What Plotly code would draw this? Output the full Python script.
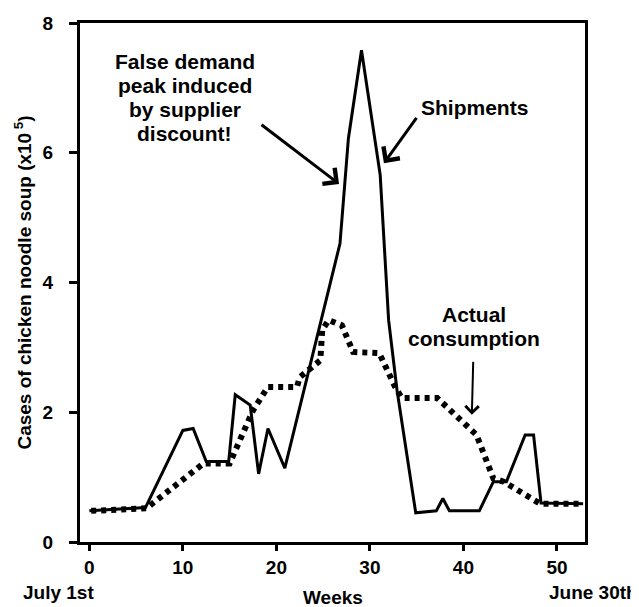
import plotly.graph_objects as go

# shipments (solid)
ship_weeks = [0, 6, 10, 11.1, 12.5, 14.9, 15.6, 17.2, 18.1, 19.1, 20.9,
              26.8, 27.7, 29.1, 31.1, 31.7, 32.0, 32.9, 34.9, 37.1, 37.8,
              38.5, 41.7, 43.2, 44.6, 46.6, 47.5, 48.3, 52.8]
ship_cases = [0.48, 0.53, 1.72, 1.75, 1.24, 1.24, 2.27, 2.11, 1.05, 1.75, 1.14,
              4.6, 6.22, 7.58, 5.66, 4.04, 3.42, 2.34, 0.45, 0.48, 0.67,
              0.48, 0.48, 0.93, 0.93, 1.65, 1.65, 0.6, 0.59]

# actual consumption (dotted)
cons_weeks = [0.2, 6.1, 12.2, 15.0, 17.5, 19.1, 22.2, 22.5, 24.7, 24.9, 25.6,
              27.0, 28.2, 31.0, 32.7, 33.4, 37.2, 40.1, 41.4, 43.2, 44.3,
              48.2, 52.8]
cons_cases = [0.48, 0.52, 1.21, 1.21, 2.03, 2.39, 2.39, 2.54, 2.8, 3.27, 3.42,
              3.34, 2.93, 2.91, 2.39, 2.22, 2.22, 1.82, 1.65, 0.98, 0.93,
              0.59, 0.59]

x_ticks = [0, 10, 20, 30, 40, 50]
y_ticks = [0, 2, 4, 6, 8]

fnt = "Arial, Liberation Sans, sans-serif"

fig = go.Figure()
fig.add_trace(go.Scatter(x=cons_weeks, y=cons_cases, mode="lines",
                         line=dict(color="black", width=6, dash="5px,5px"),
                         name="Actual consumption"))
fig.add_trace(go.Scatter(x=ship_weeks, y=ship_cases, mode="lines",
                         line=dict(color="black", width=3),
                         name="Shipments"))

# text labels, one line each (the original has tight line spacing)
labels = [
    ("False demand", 10.2, 7.40),
    ("peak induced", 10.2, 7.03),
    ("by supplier", 10.2, 6.67),
    ("discount!", 10.2, 6.30),
    ("Shipments", 41.2, 6.70),
    ("Actual", 41.1, 3.51),
    ("consumption", 41.1, 3.13),
]
for txt, x, y in labels:
    fig.add_annotation(x=x, y=y, text=txt, showarrow=False,
                       font=dict(family=fnt, size=21, color="black", weight="bold"))

# arrows (tail -> tip)
arrows = [
    (18.25, 6.45, 26.7, 5.52, 3),
    (35.1, 6.56, 31.5, 5.84, 3),
    (41.05, 2.8, 40.9, 1.96, 2),
]
for ax, ay, x, y, w in arrows:
    fig.add_annotation(x=x, y=y, ax=ax, ay=ay, axref="x", ayref="y",
                       text="", showarrow=True, arrowhead=4, arrowsize=1.3,
                       arrowwidth=w, arrowcolor="black")

bottom_font = dict(family=fnt, size=19, color="black", weight="bold")
fig.add_annotation(x=0, y=-0.098, xref="paper", yref="paper", xanchor="center",
                   yanchor="middle", text="July 1st", showarrow=False, xshift=-22,
                   font=bottom_font)
fig.add_annotation(x=0.5, y=-0.106, xref="paper", yref="paper", xanchor="center",
                   yanchor="middle", text="Weeks", showarrow=False, xshift=0,
                   font=bottom_font)
fig.add_annotation(x=1, y=-0.098, xref="paper", yref="paper", xanchor="center",
                   yanchor="middle", text="June 30th", showarrow=False, xshift=8,
                   font=bottom_font)

# page body has an 8px margin, so the figure is shrunk and shifted to fit
fig.update_layout(
    width=631, height=599,
    margin=dict(l=72, r=54, t=15, b=65),
    plot_bgcolor="white", paper_bgcolor="white",
    showlegend=False,
    font=dict(family=fnt, size=19, color="black", weight="bold"),
)
fig.update_xaxes(range=[-1, 53], tickvals=x_ticks, showgrid=False, zeroline=False,
                 showline=True, linecolor="black", linewidth=3, mirror=True,
                 ticks="outside", ticklen=6, tickwidth=3, tickcolor="black",
                 automargin=False)
fig.update_yaxes(range=[0, 8], tickvals=y_ticks, showgrid=False, zeroline=False,
                 showline=True, linecolor="black", linewidth=3, mirror=True,
                 ticks="outside", ticklen=8, tickwidth=3, tickcolor="black",
                 ticklabelstandoff=12, automargin=False,
                 title=dict(text="Cases of chicken noodle soup (x10<sup> 5</sup>)", standoff=6,
                            font=dict(family=fnt, size=19, weight="bold")))

fig.write_html("out.html")
